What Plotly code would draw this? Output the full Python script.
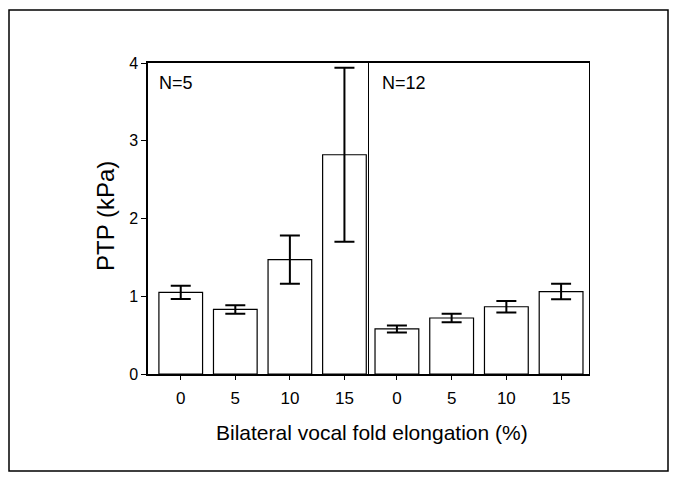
import plotly.graph_objects as go
from plotly.subplots import make_subplots

elongation = ["0", "5", "10", "15"]
group_labels = ["N=5", "N=12"]
ptp_n5 = [1.05, 0.83, 1.47, 2.82]
err_n5 = [0.085, 0.055, 0.31, 1.12]
ptp_n12 = [0.58, 0.72, 0.865, 1.06]
err_n12 = [0.045, 0.055, 0.075, 0.10]
y_ticks = [0, 1, 2, 3, 4]

FONT = "Liberation Sans, Arial, sans-serif"

fig = make_subplots(rows=1, cols=2, shared_yaxes=True, horizontal_spacing=0)

for col, (vals, errs) in enumerate([(ptp_n5, err_n5), (ptp_n12, err_n12)], start=1):
    fig.add_trace(go.Bar(
        x=elongation, y=vals, width=0.8,
        marker=dict(color="white", line=dict(color="black", width=1.2)),
        error_y=dict(type="data", array=errs, visible=True, color="black",
                     thickness=2, width=10),
        showlegend=False,
    ), row=1, col=col)

# page body has an 8px default margin; work in page pixels and shift
OFF = 8
W, H = 679 - OFF, 482 - OFF
L, R, T, B = 148, 589, 63, 374
pw, ph = R - L, B - T

def px(x):
    return (x - L) / pw

def py(y):
    return (B - y) / ph

axis_common = dict(showline=True, linecolor="black", linewidth=1.5,
                   showgrid=False, zeroline=False, ticks="outside", ticklen=4,
                   tickcolor="black", tickwidth=1.2,
                   tickfont=dict(family=FONT, size=17, color="black"))

fig.update_xaxes(**axis_common, mirror=True, ticklabelstandoff=4)
fig.update_xaxes(range=[-0.6, 3.45], domain=[0, px(369)], row=1, col=1)
fig.update_xaxes(range=[-0.51, 3.51], domain=[px(369), 1], row=1, col=2)

fig.update_yaxes(**axis_common)
fig.update_yaxes(range=[0, 4], tickvals=y_ticks, ticklen=5, mirror=False,
                 tickfont=dict(family=FONT, size=16, color="black"), row=1, col=1)
fig.update_yaxes(range=[0, 4], ticks="", showticklabels=False, mirror=True,
                 linewidth=1.2, row=1, col=2)

annotations = [
    dict(text="PTP (kPa)", x=px(105), y=py(216), xref="paper", yref="paper",
         textangle=-90, showarrow=False, xanchor="center", yanchor="middle",
         font=dict(family=FONT, size=24, color="black")),
    dict(text="Bilateral vocal fold elongation (%)", x=px(371.5), y=py(432),
         xref="paper", yref="paper", showarrow=False, xanchor="center",
         yanchor="middle", font=dict(family=FONT, size=21, color="black")),
    dict(text=group_labels[0], x=px(157), y=py(83), xref="paper", yref="paper",
         showarrow=False, xanchor="left", yanchor="middle",
         font=dict(family=FONT, size=18, color="black")),
    dict(text=group_labels[1], x=px(380), y=py(83), xref="paper", yref="paper",
         showarrow=False, xanchor="left", yanchor="middle",
         font=dict(family=FONT, size=18, color="black")),
]

fig.update_layout(
    width=W, height=H,
    margin=dict(l=L - OFF, r=(679 - R), t=T - OFF, b=(482 - B), pad=0),
    paper_bgcolor="white", plot_bgcolor="white",
    annotations=annotations,
    bargap=0.2,
    shapes=[dict(type="rect", xref="paper", yref="paper",
                 x0=px(9), x1=px(668), y0=py(471), y1=py(10),
                 line=dict(color="black", width=1.5), layer="below")],
)

fig.write_html("out.html")
